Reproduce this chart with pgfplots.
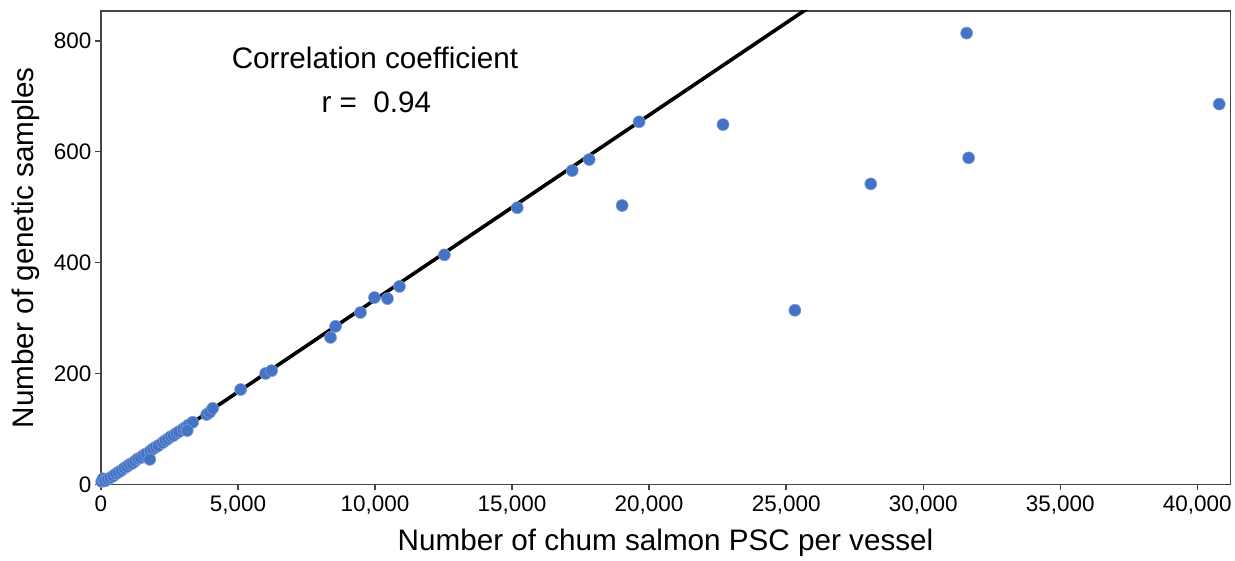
\documentclass[border=0pt]{standalone}
\usepackage{fontspec}
\setmainfont{Liberation Sans}
\usepackage{pgfplots}
\pgfplotsset{compat=1.18}
\definecolor{dotblue}{HTML}{4472C4}
\definecolor{frame}{HTML}{444444}

\begin{document}
\begin{tikzpicture}
\begin{axis}[
    scale only axis,
    width=1131pt, height=474pt,
    xmin=0, xmax=41200,
    ymin=0, ymax=854,
    xtick={0,5000,...,40000},
    ytick={0,200,400,600,800},
    scaled x ticks=false,
    /pgf/number format/assume math mode=true,
    /pgf/number format/1000 sep={,},
    tick align=outside,
    tick pos=left,
    major tick length=6pt,
    every tick/.style={frame, line width=1.4pt},
    axis line style={frame, line width=1.4pt},
    tick label style={font=\fontsize{22.5}{26}\selectfont},
    label style={font=\fontsize{29.7}{34}\selectfont},
    xlabel={Number of chum salmon PSC per vessel},
    ylabel={Number of genetic samples},
    xlabel style={yshift=-8pt},
    ylabel style={yshift=7pt},
    xticklabel style={yshift=-2pt},
]
% regression line
\addplot[black, line width=3.6pt] coordinates {(0,0) (26500,882.5)};

\addplot[only marks, mark=*, mark size=6pt, color=dotblue,
         mark options={draw=dotblue!70!white, line width=0.6pt, fill=dotblue}] coordinates {
(30,5)(80,10)(150,6)(250,9)(350,12)(450,15)(550,19)(650,22)(750,25)(850,29)
(950,32)(1050,36)(1150,38)(1250,42)(1350,46)(1450,48)(1550,52)(1650,55)
(1800,60)(1900,64)(2000,67)(2100,70)(2250,75)(2350,79)(2450,82)(2550,86)
(2650,88)(2750,92)(2850,95)(3000,100)(3100,103)(3200,107)(3350,112)
(1785,45)(3150,97)
(3860,126)(3970,130)(4080,137)(5100,171)(6011,200)(6230,205)
(8379,265)(8561,285)(9472,310)(9982,337)(10455,335)(10893,357)
(12532,414)(15191,499)(17195,566)(17814,586)(19636,654)(19016,503)
(22696,649)(25319,314)(28087,542)(31585,814)(31657,589)(40800,686)
};

\node[font=\fontsize{29.7}{34}\selectfont] at (axis cs:10000,769) {Correlation coefficient};
\node[font=\fontsize{29.7}{34}\selectfont] at (axis cs:10050,690) {r =\ \ 0.94};
\end{axis}
\path ([xshift=-101pt,yshift=-74pt]current axis.south west) rectangle ([xshift=3pt,yshift=11pt]current axis.north east);
\end{tikzpicture}
\end{document}
